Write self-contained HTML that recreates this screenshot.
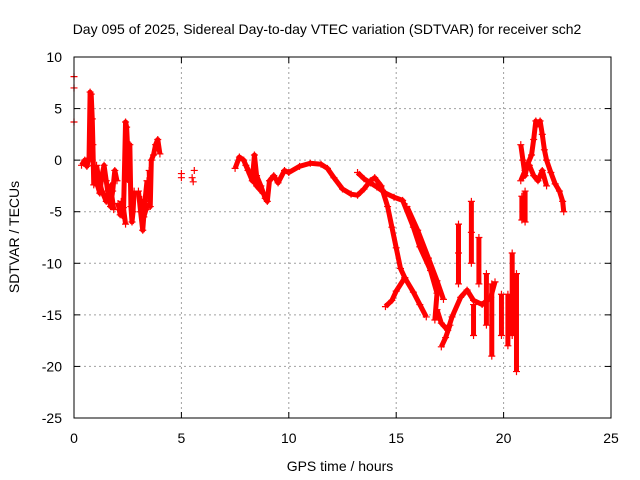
<!DOCTYPE html>
<html><head><meta charset="utf-8"><style>
body{margin:0;background:#fff;}
svg{display:block;font-family:"Liberation Sans",sans-serif;}
</style></head><body>
<svg id="chart" width="640" height="480">
<text x="327" y="34" text-anchor="middle" font-size="14">Day 095 of 2025, Sidereal Day-to-day VTEC variation (SDTVAR) for receiver sch2</text>
<text x="340" y="471" text-anchor="middle" font-size="14">GPS time / hours</text>
<text x="19" y="237" text-anchor="middle" font-size="14" transform="rotate(-90 19 237)">SDTVAR / TECUs</text>
<g id="grid"></g><g id="marks"></g><g id="axes"></g>
</svg>
<script>
const xTicks=[0,5,10,15,20,25];
const yTicks=[10,5,0,-5,-10,-15,-20,-25];
const scatterT=[0,0,0,5.0,5.0,5.5,5.55,5.6];
const scatterV=[8.1,7.0,3.7,-1.3,-1.7,-1.7,-2.1,-1.0];
const trackT=[
[0.35,0.5,0.6,0.7,0.75,0.8,0.85,0.88,0.9,0.92],
[1.0,1.1,1.2,1.3,1.4,1.5,1.6,1.7,1.8,1.9,2.0],
[2.2,2.3,2.4,2.45,2.5,2.55,2.6,2.65,2.7,2.75,2.8],
[3.0,3.1,3.2,3.3,3.4],
[3.5,3.55,3.6,3.7,3.8,3.9,4.0],
[7.5,7.7,7.9,8.1,8.3,8.4,8.5,8.7,8.9,9.0,9.1,9.3,9.5,9.8,10.0,10.5,11.0,11.5,11.8,12.1,12.5,12.9,13.2,13.5,13.8,14.0,14.3,14.6,14.8,15.0,15.2,15.4,15.0,14.8,14.5],
[15.4,15.8,16.1,16.4],
[13.2,13.5,13.8,14.1,14.5,14.9,15.3,15.8,16.1,16.6,16.9,16.8],
[15.5,16.0,16.5,16.9,17.2],
[16.9,17.1,17.4,17.6,18.0,18.3,18.6,19.0,19.4,19.6],
[17.1,17.3,17.5],
[17.9,17.9,17.9],[18.5,18.5,18.5],[18.6,18.6],[18.85,18.85],[19.2,19.2],[19.45,19.45],[19.9,19.9],[20.2,20.2],[20.4,20.4],[20.6,20.6],
[20.8,20.9,21.0,21.1,21.3,21.4,21.5,21.6,21.7,21.8,21.9,22.0,22.2,22.4,22.6,22.75,22.8],
[20.8,21.0,21.2,21.4,21.6,21.8,22.0],
[20.85,20.85],[21.0,21.0],
[1.05,1.15,1.3,1.5,1.7,1.85],
[2.05,2.15,2.3,2.4],
[3.15,3.25,3.35,3.45],
[8.0,8.2,8.5,8.8]
];
const trackV=[
[-0.5,0,-0.6,0.2,6.6,6.4,4,1.5,-0.5,-2.4],
[-1,-2.5,-3.2,-1.5,-0.5,-2,-3.5,-4.5,-3,-1,-2],
[-4,-5.5,3.7,3.2,1,-2,1.5,-4.5,-6,-5,-3],
[-3,-5,-6.8,-4,-2],
[-1,-4.5,0,0.5,1.5,2,0.6],
[-0.8,0.3,0,-1,-2,0.5,-1.5,-2.5,-3.7,-4,-2,-1.5,-2.2,-1,-1.2,-0.6,-0.3,-0.4,-0.8,-1.7,-2.8,-3.3,-3.4,-2.8,-2.0,-1.7,-2.5,-4.5,-6.5,-8.5,-10.5,-11.4,-12.7,-13.6,-14.2],
[-11.4,-12.8,-14,-15.2],
[-1.2,-1.8,-2.2,-2.6,-3.2,-3.6,-3.9,-6.5,-8.4,-10.7,-12.9,-15.5],
[-4.5,-6.8,-9.5,-11.7,-13.5],
[-14.5,-15.8,-16.5,-15.2,-13.3,-12.6,-13.6,-14,-13.3,-11.8],
[-18.1,-17.2,-16],
[-6.2,-9,-12],[-4,-7,-10],[-14,-17],[-7.5,-12],[-11,-16],[-12,-19],[-13,-17],[-13,-18],[-9,-17],[-11,-20.5],
[1.5,0,-1.5,-0.5,0.5,2,3.8,3.5,3.8,2.5,1,0,-1.2,-2.3,-3,-4,-5],
[-2,-1,-0.5,-1.5,-2,-1,-2.5],
[-3.5,-5.8],[-3,-6],
[-0.5,-1.8,-3,-4,-2.5,-4.8],
[-4.2,-5.3,-4.6,-6.2],
[-3.8,-5.5,-4.8,-4.2],
[-0.5,-1.3,-2.5,-3.2]
];
const X0=74,X1=611,Y0=418,Y1=57;
const xs=t=>X0+(t-0)/(25-0)*(X1-X0);
const ys=v=>Y0-(v+25)/(35)*(Y0-Y1);
const NS="http://www.w3.org/2000/svg";
function mk(tag,attrs,parent){const e=document.createElementNS(NS,tag);for(const k in attrs)e.setAttribute(k,attrs[k]);parent.appendChild(e);return e;}
const grid=document.getElementById('grid'),axes=document.getElementById('axes'),marks=document.getElementById('marks');
xTicks.forEach(t=>{const x=xs(t);
 if(t>0&&t<25){const g=mk('line',{x1:x,x2:x,y1:Y1,y2:Y0,stroke:'#a0a0a0','stroke-dasharray':'2,3'},grid);
 
 }
 mk('line',{x1:x,x2:x,y1:Y0,y2:Y0-6,stroke:'#000'},axes);
 mk('line',{x1:x,x2:x,y1:Y1,y2:Y1+6,stroke:'#000'},axes);
 const l=mk('text',{x:x,y:443,'text-anchor':'middle','font-size':'14'},axes);l.textContent=t;
 
 
});
yTicks.forEach(v=>{const y=ys(v);
 if(v<10&&v>-25){const g=mk('line',{x1:X0,x2:X1,y1:y,y2:y,stroke:'#a0a0a0','stroke-dasharray':'2,3'},grid);
 
 }
 mk('line',{x1:X0,x2:X0+6,y1:y,y2:y,stroke:'#000'},axes);
 mk('line',{x1:X1,x2:X1-6,y1:y,y2:y,stroke:'#000'},axes);
 const l=mk('text',{x:62,y:y+5,'text-anchor':'end','font-size':'14'},axes);l.textContent=v;
 
 
});
const fr=mk('rect',{x:X0,y:Y1,width:X1-X0,height:Y0-Y1,fill:'none',stroke:'#000'},axes);


function plus(t,v){const x=xs(t),y=ys(v);
 const p=mk('path',{d:`M${x-3.5} ${y}H${x+3.5}M${x} ${y-3.5}V${y+3.5}`,stroke:'#f00','stroke-width':1.2},marks);
 
 }
trackT.forEach((ts,i)=>{const vs=trackV[i];
 const pts=ts.map((t,j)=>xs(t)+','+ys(vs[j])).join(' ');
 const pl=mk('polyline',{points:pts,fill:'none',stroke:'#f00','stroke-width':5,'stroke-linejoin':'round'},marks);
 
 
 ts.forEach((t,j)=>plus(t,vs[j]));
});
scatterT.forEach((t,i)=>plus(t,scatterV[i]));
</script>
</body></html>
